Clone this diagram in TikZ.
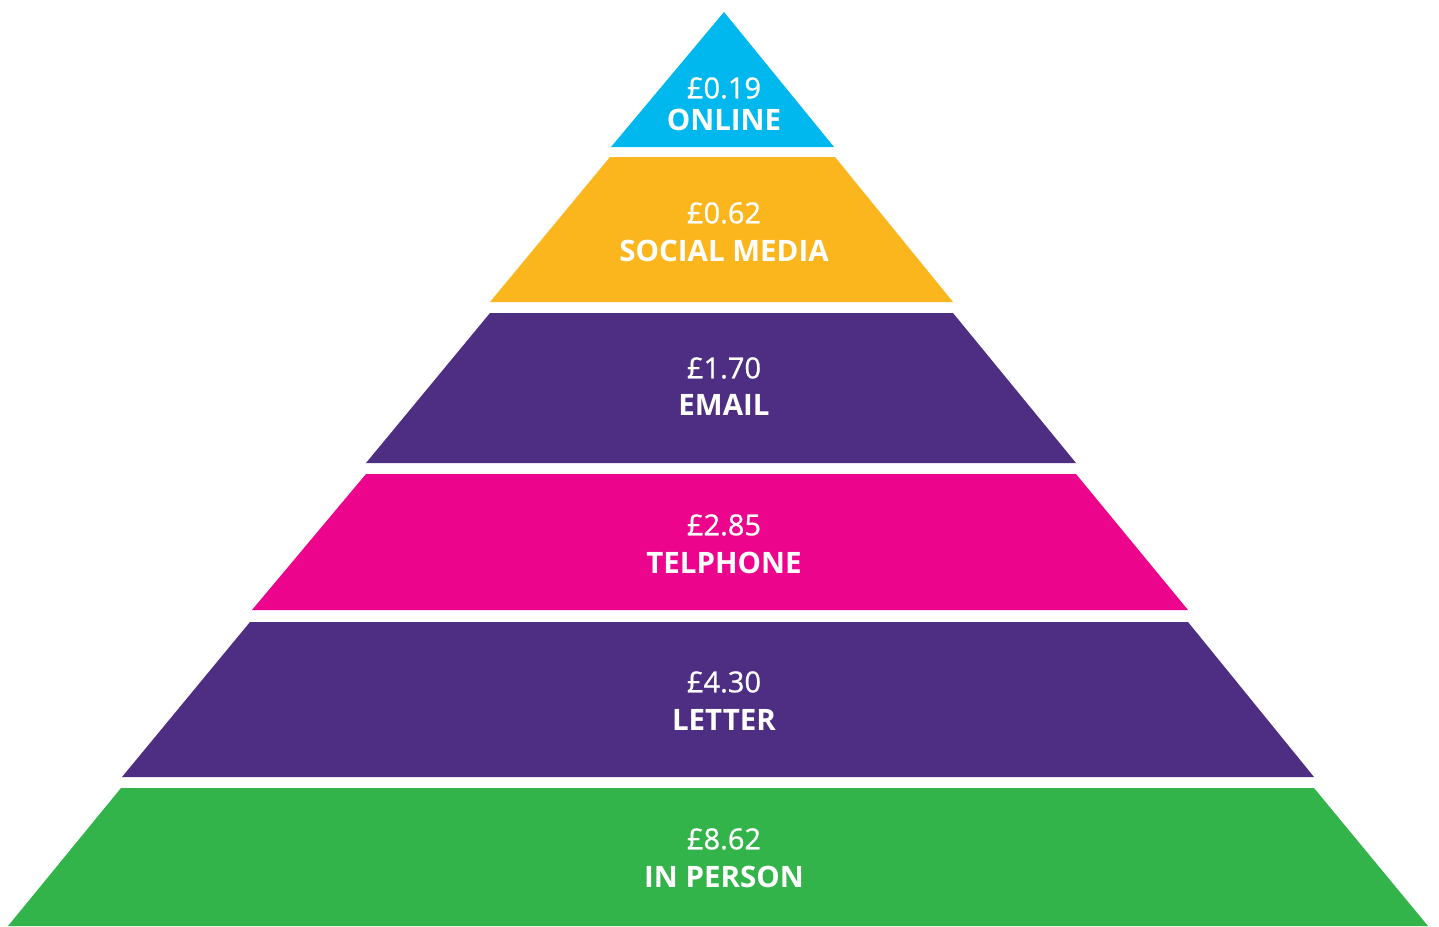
\documentclass[tikz,border=0pt]{standalone}
\usepackage{fontspec}
\setmainfont{Open Sans}
\newfontfamily\pricefont[FakeBold=0.8]{Open Sans}
\definecolor{cOnline}{HTML}{00B8EE}
\definecolor{cSocial}{HTML}{FBB61E}
\definecolor{cPurple}{HTML}{4E2E82}
\definecolor{cPink}{HTML}{EC058C}
\definecolor{cGreen}{HTML}{33B44A}
\begin{document}
\begin{tikzpicture}[x=1pt,y=-1pt,
  price/.style={text=white,font=\pricefont\fontsize{29}{32}\selectfont,inner sep=0pt},
  lbl/.style={text=white,font=\bfseries\fontsize{29.5}{32}\selectfont,inner sep=0pt}]
\useasboundingbox (0,0) rectangle (1439,926);
\fill[cOnline] (724,12) -- (834,147) -- (611,147) -- cycle;
\fill[cSocial] (610,157) -- (835,157) -- (953,302) -- (490,302) -- cycle;
\fill[cPurple] (490,313) -- (953,313) -- (1076,463) -- (366,463) -- cycle;
\fill[cPink] (366,474) -- (1076,474) -- (1188,610) -- (252,610) -- cycle;
\fill[cPurple] (250,622) -- (1188,622) -- (1314,777) -- (122,777) -- cycle;
\fill[cGreen] (121,788) -- (1314,788) -- (1428,926) -- (8,926) -- cycle;
\node[price] (p1) at (724,88) {£0.19};
\node[lbl] (l1) at (724,120) {ONLINE};
\node[price] (p2) at (724,213) {£0.62};
\node[lbl] (l2) at (724,251) {SOCIAL MEDIA};
\node[price] (p3) at (724,368) {£1.70};
\node[lbl] (l3) at (724,405) {EMAIL};
\node[price] (p4) at (724,525) {£2.85};
\node[lbl] (l4) at (724,563) {TELPHONE};
\node[price] (p5) at (724,682) {£4.30};
\node[lbl] (l5) at (724,720) {LETTER};
\node[price] (p6) at (724,839) {£8.62};
\node[lbl] (l6) at (724,877) {IN PERSON};
\end{tikzpicture}
\end{document}
